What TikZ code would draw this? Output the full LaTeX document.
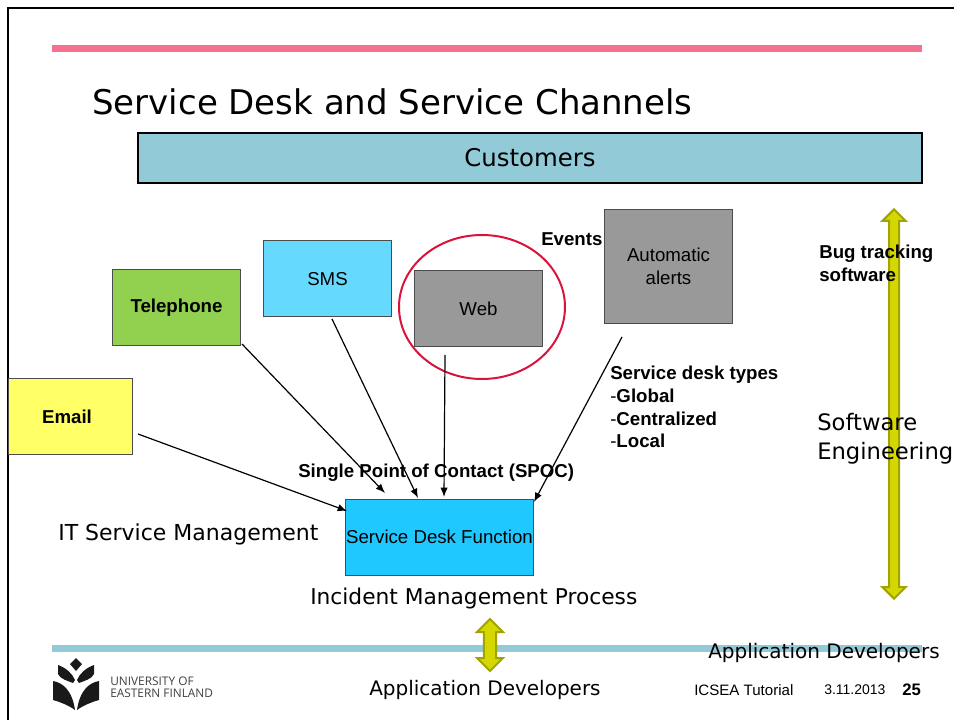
\documentclass[tikz,border=0pt]{standalone}
\usepackage{fontspec}
\setmainfont{Liberation Sans}
\newfontfamily\slidefont{DejaVu Sans}
\newfontfamily\logofont{Open Sans}
\usetikzlibrary{shapes.arrows,arrows.meta}
\definecolor{barblue}{HTML}{92CAD7}
\definecolor{barpink}{HTML}{F4728F}
\definecolor{arrowfill}{HTML}{D4D800}
\definecolor{arrowedge}{HTML}{A3A300}
\tikzset{
    chanbox/.style = {draw=black!70, line width=0.75pt, inner sep=0pt, align=center, minimum width=96.5pt, minimum height=57pt, font=\fontsize{14}{17}\selectfont},
    boldlabel/.style = {inner sep=0pt, anchor=west, align=left, font=\fontsize{14}{17}\selectfont\bfseries},
    slidelabel/.style = {inner sep=0pt, anchor=west, align=left, font=\slidefont\fontsize{15}{22}\selectfont},
    footlabel/.style = {inner sep=0pt, anchor=west, font=\fontsize{10.5}{12}\selectfont},
    spocline/.style = {-{Latex[length=7pt,width=5.5pt]}, line width=0.9pt},
    yellowarrow/.style = {draw=arrowedge, fill=arrowfill, line width=1.5pt, shape=double arrow, shape border rotate=90, inner ysep=0pt, anchor=center, double arrow head extend=5pt, double arrow tip angle=90},
    logoink/.style = {fill=black!90, draw=none}
}
\begin{document}
\begin{tikzpicture}[x=0.75pt,y=-0.75pt]
    \useasboundingbox (0,0) rectangle (954,720);
    \draw[line width=1.5pt] (8,720) -- (8,8) -- (954,8);
    \fill[barpink] (52,45) rectangle (922,52);
    \fill[barblue] (52,644.5) rectangle (922,651.5);
    \node[slidelabel, font=\slidefont\fontsize{25.5}{30}\selectfont] (title) at (92,102) {Service Desk and Service Channels};
    \node[chanbox, fill=barblue, draw=black, line width=1.5pt, minimum width=588pt, minimum height=37.5pt, font=\slidefont\fontsize{18.3}{20}\selectfont] (customers) at (530,158) {Customers};
    \node[chanbox, fill={rgb,255:red,255;green,255;blue,102}, minimum width=93pt, font=\fontsize{14}{17}\selectfont\bfseries] (email) at (70,417) {\hspace*{-4.5pt}Email};
    \node[chanbox, fill={rgb,255:red,146;green,208;blue,80}, font=\fontsize{14}{17}\selectfont\bfseries] (telephone) at (176.5,308) {Telephone};
    \node[chanbox, fill={rgb,255:red,102;green,217;blue,255}] (sms) at (327.5,279) {SMS};
    \node[chanbox, fill=black!40] (web) at (478.5,308.5) {Web};
    \node[chanbox, fill=black!40, minimum height=85pt] (alerts) at (668.5,266.5) {Automatic\\alerts};
    \draw[line width=1.5pt, color={rgb,255:red,217;green,20;blue,60}] (482,307) ellipse (83 and 72);
    \node[chanbox, fill={rgb,255:red,31;green,200;blue,255}, minimum width=141.5pt] (desk) at (439.5,537) {Service Desk Function};
    \node[yellowarrow, inner xsep=3pt, minimum height=292pt, minimum width=17pt] (bigarrow) at (894,404) {};
    \node[yellowarrow, inner xsep=3.6pt, minimum height=39pt, minimum width=19.5pt] (smallarrow) at (490,645) {};
    \coordinate (telephonefoot) at (242,344);
    \coordinate (smsfoot) at (332,319);
    \coordinate (webfoot) at (445,355);
    \coordinate (alertsfoot) at (622,337);
    \coordinate (emailfoot) at (138,434);
    \coordinate (deskA) at (385,493);
    \coordinate (deskB) at (418,498);
    \coordinate (deskC) at (444,497);
    \coordinate (deskD) at (534,502);
    \coordinate (deskE) at (347,511);
    \draw[spocline] (telephonefoot) -- (deskA);
    \draw[spocline] (smsfoot) -- (deskB);
    \draw[spocline] (webfoot) -- (deskC);
    \draw[spocline] (alertsfoot) -- (deskD);
    \draw[spocline] (emailfoot) -- (deskE);
    \node[boldlabel] (events) at (541,239) {Events};
    \node[boldlabel] (spoc) at (298,473) {Single Point of Contact (SPOC)};
    \node[boldlabel] (bugs) at (819,263.5) {Bug tracking\\software};
    \node[boldlabel] (types) at (610,407) {Service desk types\\\mdseries-\bfseries Global\\\mdseries-\bfseries Centralized\\\mdseries-\bfseries Local};
    \node[slidelabel, font=\slidefont\fontsize{16.5}{22}\selectfont] (itsm) at (58,534) {IT Service Management};
    \node[slidelabel, font=\slidefont\fontsize{16.3}{22}\selectfont] (incident) at (310,599) {Incident Management Process};
    \node[slidelabel, font=\slidefont\fontsize{17}{22}\selectfont] (software) at (817,439) {Software\\Engineering};
    \node[slidelabel] (devright) at (708,653) {Application Developers};
    \node[slidelabel] (devfoot) at (369,690) {Application Developers};
    \node[footlabel, font=\fontsize{11.3}{13}\selectfont] (tutorial) at (694,690) {ICSEA Tutorial};
    \node[footlabel] (date) at (824,690) {3.11.2013};
    \node[footlabel, font=\fontsize{12.5}{14}\selectfont\bfseries] (page) at (902,690) {25};
    \node[inner sep=0pt, anchor=west, align=left, font=\logofont\fontsize{8.9}{9}\selectfont, text=black!75] (uef) at (110,687) {UNIVERSITY OF\\EASTERN FINLAND};
    \fill[logoink] (76,658) -- (82,664) -- (76,671) -- (70,664) -- cycle;
    \fill[logoink] (58,665) .. controls (66,668) and (72,673) .. (75,680) -- (73,683) .. controls (68,681) and (60,679) .. (58,674) -- cycle;
    \fill[logoink] (94,665) .. controls (86,668) and (80,673) .. (77,680) -- (79,683) .. controls (84,681) and (92,679) .. (94,674) -- cycle;
    \fill[logoink] (53,681) .. controls (63,683) and (72,690) .. (75,710) .. controls (68,705) and (60,702) .. (53,700) -- cycle;
    \fill[logoink] (99,681) .. controls (89,683) and (80,690) .. (77,710) .. controls (84,705) and (92,702) .. (99,700) -- cycle;
\end{tikzpicture}
\end{document}
